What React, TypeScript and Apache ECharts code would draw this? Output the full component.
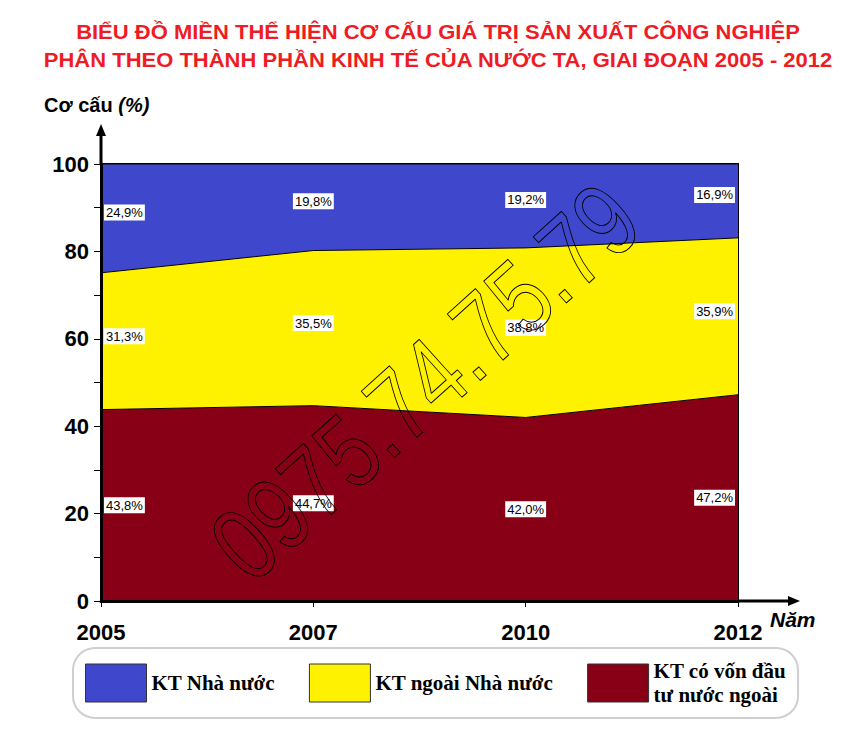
import React, { useEffect, useRef } from "react";
import * as echarts from "echarts";

const years = ["2005", "2007", "2010", "2012"];
const stateSector = [24.9, 19.8, 19.2, 16.9];
const nonStateSector = [31.3, 35.5, 38.8, 35.9];
const foreignSector = [43.8, 44.7, 42.0, 47.2];
const seriesNames = ["KT Nhà nước", "KT ngoài Nhà nước", "KT có vốn đầu tư nước ngoài"];
const seriesColors = ["#3f48cc", "#fff200", "#880015"];
const titleLines = [
  "BIỂU ĐỒ MIỀN THỂ HIỆN CƠ CẤU GIÁ TRỊ SẢN XUẤT CÔNG NGHIỆP",
  "PHÂN THEO THÀNH PHẦN KINH TẾ CỦA NƯỚC TA, GIAI ĐOẠN 2005 - 2012",
];
const watermark = "0975.74.75.79";

const W = 858;
const H = 731;
const GL = 101;
const GT = 164;
const GR = 738;
const GB = 601;

const SANS = "'Liberation Sans', Arial, sans-serif";
const SERIF = "'Liberation Serif', 'Times New Roman', serif";

const fmt = (v: number) => v.toFixed(1).replace(".", ",") + "%";

export default function App() {
  const ref = useRef<HTMLDivElement>(null);
  useEffect(() => {
    if (!ref.current) return;
    const chart = echarts.init(ref.current, null, { renderer: "svg" });

    const labelData: any[] = [];
    years.forEach((yr, i) => {
      const pos = i === 0 ? "right" : i === years.length - 1 ? "left" : "inside";
      const f = foreignSector[i];
      const n = nonStateSector[i];
      const s = stateSector[i];
      labelData.push({ value: [yr, f / 2], pct: f, label: { position: pos } });
      labelData.push({ value: [yr, f + n / 2], pct: n, label: { position: pos, offset: [0, -5] } });
      labelData.push({ value: [yr, f + n + s / 2], pct: s, label: { position: pos, offset: [0, -6] } });
    });

    const areaSeries = (name: string, data: number[], color: string) => ({
      name,
      type: "line",
      stack: "total",
      data,
      symbol: "none",
      color,
      lineStyle: { color: "#000", width: 1 },
      areaStyle: { color, opacity: 1 },
      itemStyle: { color, borderColor: "#000", borderWidth: 1 },
      z: 2,
    });

    chart.setOption({
      animation: false,
      backgroundColor: "#fff",
      grid: {
        left: GL,
        top: GT,
        width: GR - GL,
        height: GB - GT,
        show: true,
        borderColor: "#000",
        borderWidth: 2,
        backgroundColor: "transparent",
      },
      legend: {
        data: seriesNames,
        left: 73,
        top: 648,
        width: 727,
        padding: [11, 12, 11, 12],
        itemGap: 34,
        itemWidth: 61,
        itemHeight: 38,
        icon: "rect",
        selectedMode: false,
        backgroundColor: "#fff",
        borderColor: "#cfcfcf",
        borderWidth: 2,
        borderRadius: 22,
        itemStyle: { borderColor: "#333", borderWidth: 1 },
        formatter: (name: string) =>
          name === seriesNames[2] ? "KT có vốn đầu\ntư nước ngoài" : name,
        textStyle: {
          fontFamily: SERIF,
          fontWeight: "bold",
          fontSize: 21,
          color: "#000",
          lineHeight: 24,
          align: "center",
        },
      },
      xAxis: {
        type: "category",
        data: years,
        boundaryGap: false,
        axisLine: { show: true, lineStyle: { color: "#000", width: 3 } },
        axisTick: { show: true, inside: false, length: 6, lineStyle: { color: "#000", width: 1 } },
        axisLabel: {
          margin: 20,
          color: "#000",
          fontFamily: SANS,
          fontWeight: "bold",
          fontSize: 22,
        },
        splitLine: { show: false },
        z: 5,
      },
      yAxis: {
        type: "value",
        min: 0,
        max: 100,
        interval: 20,
        axisLine: { show: true, lineStyle: { color: "#000", width: 3 } },
        axisTick: { show: true, length: 7, lineStyle: { color: "#000", width: 1 } },
        minorTick: { show: true, splitNumber: 2, length: 7, lineStyle: { color: "#000", width: 1 } },
        axisLabel: {
          margin: 12,
          color: "#000",
          fontFamily: SANS,
          fontWeight: "bold",
          fontSize: 22,
        },
        splitLine: { show: false },
        z: 5,
      },
      series: [
        areaSeries(seriesNames[2], foreignSector, seriesColors[2]),
        areaSeries(seriesNames[1], nonStateSector, seriesColors[1]),
        areaSeries(seriesNames[0], stateSector, seriesColors[0]),
        {
          type: "scatter",
          name: "labels",
          data: labelData,
          symbolSize: 0,
          z: 6,
          silent: true,
          itemStyle: { opacity: 1 },
          label: {
            show: true,
            distance: 3,
            formatter: (p: any) => fmt(p.data.pct),
            color: "#000",
            fontFamily: SANS,
            fontSize: 13,
            backgroundColor: "#ffffff",
            opacity: 1,
            padding: [2, 2, 1, 2],
          },
        },
      ],
      graphic: [
        {
          type: "text",
          x: 438,
          y: 18,
          scaleX: 1.1,
          style: {
            text: titleLines.join("\n"),
            fontFamily: SANS,
            fontWeight: "bold",
            fontSize: 20,
            lineHeight: 28,
            fill: "#ee1c24",
            textAlign: "center",
          },
          z: 10,
        },
        {
          type: "line",
          shape: { x1: GL, y1: GT, x2: GL, y2: 132 },
          style: { stroke: "#000", lineWidth: 3 },
          z: 10,
        },
        {
          type: "polygon",
          shape: { points: [[GL, 124], [GL - 5, 136], [GL + 5, 136]] },
          style: { fill: "#000" },
          z: 10,
        },
        {
          type: "line",
          shape: { x1: GR, y1: GB, x2: 792, y2: GB },
          style: { stroke: "#000", lineWidth: 3 },
          z: 10,
        },
        {
          type: "polygon",
          shape: { points: [[800, GB], [788, GB - 5], [788, GB + 5]] },
          style: { fill: "#000" },
          z: 10,
        },
        {
          type: "text",
          left: 44,
          top: 95,
          style: {
            text: "{a|Cơ cấu }{b|(%)}",
            rich: {
              a: { fontFamily: SANS, fontWeight: "bold", fontSize: 20, fill: "#000" },
              b: { fontFamily: SANS, fontWeight: "bold", fontStyle: "italic", fontSize: 20, fill: "#000" },
            },
          },
          z: 10,
        },
        {
          type: "text",
          left: 770,
          top: 609,
          style: {
            text: "Năm",
            fontFamily: SANS,
            fontWeight: "bold",
            fontStyle: "italic",
            fontSize: 21,
            fill: "#000",
          },
          z: 10,
        },
        {
          type: "text",
          x: 425,
          y: 382,
          rotation: (42 * Math.PI) / 180,
          scaleX: 0.8,
          style: {
            text: watermark,
            fontFamily: SANS,
            fontSize: 104,
            fill: "none",
            stroke: "#000",
            lineWidth: 1,
            textAlign: "center",
            textVerticalAlign: "middle",
          },
          silent: true,
          z: 20,
        },
      ],
    });
    return () => chart.dispose();
  }, []);
  return <div ref={ref} style={{ width: W, height: H, margin: -8 }} />;
}
